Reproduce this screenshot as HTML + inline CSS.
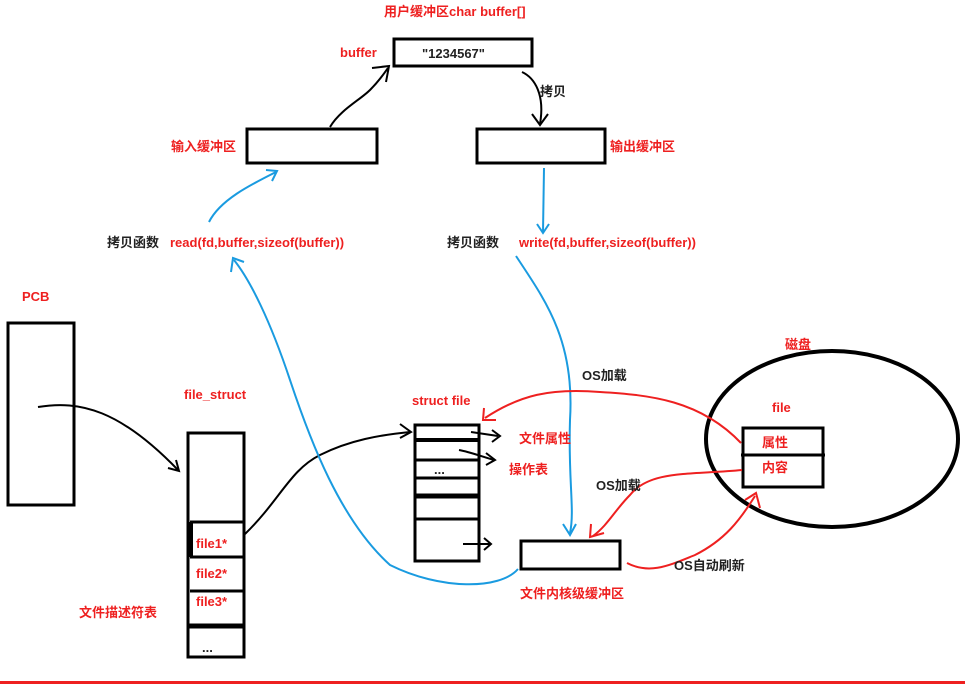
<!DOCTYPE html>
<html><head><meta charset="utf-8"><style>
html,body{margin:0;padding:0;background:#fff;width:965px;height:689px;overflow:hidden}
svg{display:block}
text{font-family:"Liberation Sans","Noto Sans CJK SC",sans-serif;font-weight:bold;font-size:13px}
.r{fill:#ee2020}.k{fill:#222}
</style></head><body>
<svg width="965" height="689" viewBox="0 0 965 689">
<g fill="none" stroke="#000" stroke-width="3">
<rect x="394" y="39" width="138" height="27"/>
<rect x="247" y="129" width="130" height="34"/>
<rect x="477" y="129" width="128" height="34"/>
<rect x="8" y="323" width="66" height="182"/>
<rect x="188" y="433" width="56" height="224"/>
<rect x="415" y="425" width="64" height="136"/>
<rect x="521" y="541" width="99" height="28"/>
<ellipse cx="832" cy="439" rx="126" ry="88" stroke-width="4"/>
<rect x="743" y="428" width="80" height="59"/>
<line x1="741" y1="455" x2="825" y2="455"/>
</g>
<g stroke="#000" stroke-width="3">
<line x1="190" y1="522" x2="244" y2="522"/>
<line x1="190" y1="557" x2="244" y2="557"/>
<line x1="190" y1="591" x2="244" y2="591"/>
<line x1="188" y1="626" x2="244" y2="626" stroke-width="5"/>
<line x1="191" y1="522" x2="191" y2="557" stroke-width="4"/>
<line x1="415" y1="440" x2="479" y2="440" stroke-width="4"/>
<line x1="415" y1="460" x2="479" y2="460" stroke-width="3"/>
<line x1="415" y1="478" x2="480" y2="478" stroke-width="3"/>
<line x1="414" y1="496" x2="479" y2="496" stroke-width="5"/>
<line x1="415" y1="519" x2="480" y2="519" stroke-width="3"/>
</g>
<g fill="none" stroke="#000" stroke-width="2">
<path d="M330 127 C340 110,360 100,370 90 S385 72,388 68"/><path d="M372 68 L389 66 L386 82"/>
<path d="M522 72 C535 78,545 95,540 124"/><path d="M532 114 L540 125 L548 114"/>
<path d="M38 407 C80 400,120 410,178 470"/><path d="M168 468 L179 471 L176 460"/>
<path d="M245 534 C280 500,290 470,320 455 S380 435,410 432"/><path d="M400 424 L411 432 L400 438"/>
<path d="M471 432 L498 436"/><path d="M492 430 L500 436 L492 442"/>
<path d="M459 450 C470 452,480 456,494 460"/><path d="M486 453 L495 460 L486 465"/>
<path d="M463 544 L490 544"/><path d="M484 538 L491 544 L484 550"/>
</g>
<g fill="none" stroke="#1a9be0" stroke-width="2">
<path d="M209 222 C220 200,250 185,276 172"/><path d="M266 170 L277 171 L272 181"/>
<path d="M544 168 L543 232"/><path d="M537 224 L543 233 L549 224"/>
<path d="M518 569 C500 590,440 590,390 565 C340 520,310 440,290 380 C270 320,250 280,234 260"/><path d="M231 272 L233 258 L244 262"/>
<path d="M516 256 C545 300,575 340,570 420 C568 480,575 510,570 533"/><path d="M563 524 L570 535 L576 524"/>
</g>
<g fill="none" stroke="#ee2020" stroke-width="2">
<path d="M741 443 C700 400,650 395,600 392 C550 388,520 395,485 418"/><path d="M484 408 L483 420 L496 420"/>
<path d="M742 470 C690 475,650 470,630 495 C615 510,608 525,593 536"/><path d="M591 524 L590 537 L604 533"/>
<path d="M627 563 C650 575,670 565,695 555 C725 540,740 520,755 496"/><path d="M745 500 L756 493 L760 508"/>
</g>
<rect x="0" y="681" width="965" height="3" fill="#ee2020"/>
<text x="384" y="16" class="r">用户缓冲区char buffer[]</text>
<text x="340" y="57" class="r">buffer</text>
<text x="422" y="58" class="k">"1234567"</text>
<text x="171" y="151" class="r">输入缓冲区</text>
<text x="610" y="151" class="r">输出缓冲区</text>
<text x="540" y="96" class="k" font-size="12">拷贝</text>
<text x="107" y="247" class="k" font-size="12">拷贝函数</text>
<text x="170" y="247" class="r">read(fd,buffer,sizeof(buffer))</text>
<text x="447" y="247" class="k" font-size="12">拷贝函数</text>
<text x="519" y="247" class="r">write(fd,buffer,sizeof(buffer))</text>
<text x="22" y="301" class="r" font-size="14">PCB</text>
<text x="184" y="399" class="r" font-size="14">file_struct</text>
<text x="412" y="405" class="r">struct file</text>
<text x="196" y="548" class="r" font-size="15">file1*</text>
<text x="196" y="578" class="r" font-size="15">file2*</text>
<text x="196" y="606" class="r" font-size="15">file3*</text>
<text x="202" y="652" class="k" font-size="10">...</text>
<text x="434" y="474" class="k" font-size="9">...</text>
<text x="79" y="617" class="r">文件描述符表</text>
<text x="519" y="443" class="r" font-size="14">文件属性</text>
<text x="509" y="474" class="r" font-size="14">操作表</text>
<text x="520" y="598" class="r">文件内核级缓冲区</text>
<text x="582" y="380" class="k">OS加载</text>
<text x="596" y="490" class="k">OS加载</text>
<text x="674" y="570" class="k">OS自动刷新</text>
<text x="785" y="349" class="r">磁盘</text>
<text x="772" y="412" class="r">file</text>
<text x="762" y="447" class="r" font-size="14">属性</text>
<text x="762" y="472" class="r" font-size="14">内容</text>
</svg>
</body></html>
